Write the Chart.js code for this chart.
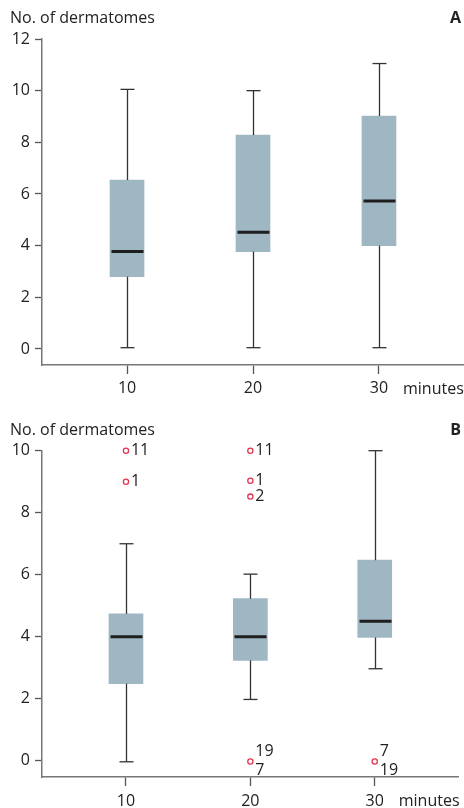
<!DOCTYPE html>
<html>
<head>
<meta charset="utf-8">
<script src="https://cdn.jsdelivr.net/npm/chart.js@4.4.1/dist/chart.umd.min.js"></script>
<style>
  html, body { margin: 0; padding: 0; background: #fff; }
  canvas { display: block; }
</style>
</head>
<body>
<canvas id="chartA" width="464" height="404"></canvas>
<canvas id="chartB" width="464" height="404"></canvas>
<script>
// categories (minutes after injection)
const minutes = [10, 20, 30];
const yTicksA = [0, 2, 4, 6, 8, 10, 12];
const yTicksB = [0, 2, 4, 6, 8, 10];

// panel A: box plot values
const aLow = [0.05, 0.05, 0.05];
const aQ1 = [2.8, 3.77, 4.0];
const aMedian = [3.77, 4.52, 5.73];
const aQ3 = [6.54, 8.28, 9.02];
const aHigh = [10.05, 10.0, 11.05];

// panel B: box plot values
const bLow = [-0.03, 1.98, 2.97];
const bQ1 = [2.49, 3.24, 3.98];
const bMedian = [4.0, 4.0, 4.5];
const bQ3 = [4.74, 5.23, 6.47];
const bHigh = [7.0, 6.02, 10.0];

// panel B: outliers and their case numbers
const bOutX = [10, 10, 20, 20, 20, 20, 30];
const bOutY = [10, 9, 10, 9.03, 8.52, -0.02, -0.02];
const bOutLabel = ['11', '1', '11', '1', '2', '', ''];
const bOutAbove = ['', '', '', '', '', '19', '7'];
const bOutBelow = ['', '', '', '', '', '7', '19'];

const FONT = "'Open Sans', 'Noto Sans', sans-serif";
const TEXT = '#222';

function line(ctx, x1, y1, x2, y2) {
    ctx.beginPath();
    ctx.moveTo(x1, y1);
    ctx.lineTo(x2, y2);
    ctx.stroke();
}

// whiskers, caps and median lines, placed through the chart scales
const boxParts = {
    id: 'boxParts',
    afterDatasetsDraw(chart, args, opts) {
        const { ctx, scales: { x, y } } = chart;
        const bars = chart.getDatasetMeta(0).data;
        ctx.save();
        opts.low.forEach((lo, i) => {
            const cx = Math.round(x.getPixelForValue(minutes[i])) + 0.5;
            const half = bars[i].width / 2;
            const yLo = y.getPixelForValue(lo);
            const yHi = y.getPixelForValue(opts.high[i]);
            ctx.strokeStyle = '#333';
            ctx.lineWidth = 1.3;
            line(ctx, cx, yLo, cx, y.getPixelForValue(opts.q1[i]));
            line(ctx, cx, y.getPixelForValue(opts.q3[i]), cx, yHi);
            line(ctx, cx - 7, yLo, cx + 7, yLo);
            line(ctx, cx - 7, yHi, cx + 7, yHi);
            ctx.strokeStyle = '#1e1e1e';
            ctx.lineWidth = 3;
            const ym = y.getPixelForValue(opts.median[i]);
            line(ctx, cx - half + 1, ym, cx + half - 1, ym);
        });
        ctx.restore();
    }
};

// case numbers beside the outliers
const outlierLabels = {
    id: 'outlierLabels',
    afterDatasetsDraw(chart) {
        const meta = chart.data.datasets.length > 1 ? chart.getDatasetMeta(1) : null;
        if (!meta) return;
        const { ctx } = chart;
        ctx.save();
        ctx.font = '16px ' + FONT;
        ctx.fillStyle = TEXT;
        ctx.textBaseline = 'middle';
        ctx.textAlign = 'left';
        meta.data.forEach((pt, i) => {
            if (bOutLabel[i]) ctx.fillText(bOutLabel[i], pt.x + 5, pt.y);
            if (bOutAbove[i]) ctx.fillText(bOutAbove[i], pt.x + 5, pt.y - 10);
            if (bOutBelow[i]) ctx.fillText(bOutBelow[i], pt.x + 5, pt.y + 9);
        });
        ctx.restore();
    }
};

// axis captions and panel letter
const captions = {
    id: 'captions',
    afterDraw(chart, args, opts) {
        const { ctx, chartArea, scales: { x } } = chart;
        ctx.save();
        ctx.fillStyle = TEXT;
        ctx.textBaseline = 'middle';
        ctx.font = '16px ' + FONT;
        ctx.textAlign = 'left';
        ctx.fillText('No. of dermatomes', 10, opts.titleY);
        ctx.fillText('minutes', x.getPixelForValue(30) + 24, chartArea.bottom + opts.unitDy);
        ctx.font = 'bold 16px ' + FONT;
        ctx.textAlign = 'right';
        ctx.fillText(opts.letter, 461, opts.titleY);
        ctx.restore();
    }
};

function makeChart(id, box, yTicks, yMin, yMax, pad, xHeight, xPad, outliers, cap) {
    const datasets = [{
        type: 'bar',
        data: minutes.map((m, i) => ({ x: m, y: [box.q1[i], box.q3[i]] })),
        backgroundColor: '#9fb6c3',
        borderWidth: 0,
        barThickness: 34,
        grouped: false
    }];
    if (outliers) {
        datasets.push({
            type: 'scatter',
            data: bOutX.map((v, i) => ({ x: v, y: bOutY[i] })),
            pointStyle: 'circle',
            pointRadius: 2.6,
            borderColor: '#e2344e',
            borderWidth: 1.3,
            backgroundColor: '#fff',
            clip: false
        });
    }
    return new Chart(document.getElementById(id), {
        type: 'bar',
        data: { datasets },
        options: {
            responsive: false,
            animation: false,
            layout: { padding: { top: pad, left: 0, right: 0, bottom: 0 } },
            scales: {
                x: {
                    type: 'linear',
                    min: 3.25,
                    max: 36.75,
                    offset: false,
                    afterBuildTicks: s => { s.ticks = minutes.map(v => ({ value: v })); },
                    afterFit: s => { s.height = xHeight; },
                    grid: { drawOnChartArea: false, offset: false, tickLength: 9, color: '#555', tickWidth: 1.3 },
                    border: { color: '#777', width: 1.5 },
                    ticks: { font: { family: FONT, size: 16 }, color: TEXT, padding: xPad, maxRotation: 0 }
                },
                y: {
                    min: yMin,
                    max: yMax,
                    afterBuildTicks: s => { s.ticks = yTicks.map(v => ({ value: v })); },
                    afterFit: s => { s.width = 42; },
                    grid: { drawOnChartArea: false, tickLength: 7, color: '#555', tickWidth: 1.3 },
                    border: { color: '#777', width: 1.5 },
                    ticks: { font: { family: FONT, size: 16 }, color: TEXT, padding: 5 }
                }
            },
            plugins: {
                legend: { display: false },
                tooltip: { enabled: false },
                boxParts: box,
                captions: cap
            }
        },
        plugins: [boxParts, outlierLabels, captions]
    });
}

makeChart('chartA',
    { low: aLow, q1: aQ1, median: aMedian, q3: aQ3, high: aHigh },
    yTicksA, -0.62, 12, 39, 39, 5, false,
    { letter: 'A', titleY: 18, unitDy: 24 });

makeChart('chartB',
    { low: bLow, q1: bQ1, median: bMedian, q3: bQ3, high: bHigh },
    yTicksB, -0.52, 10, 46.7, 31, 6, true,
    { letter: 'B', titleY: 26, unitDy: 24 });
</script>
</body>
</html>
